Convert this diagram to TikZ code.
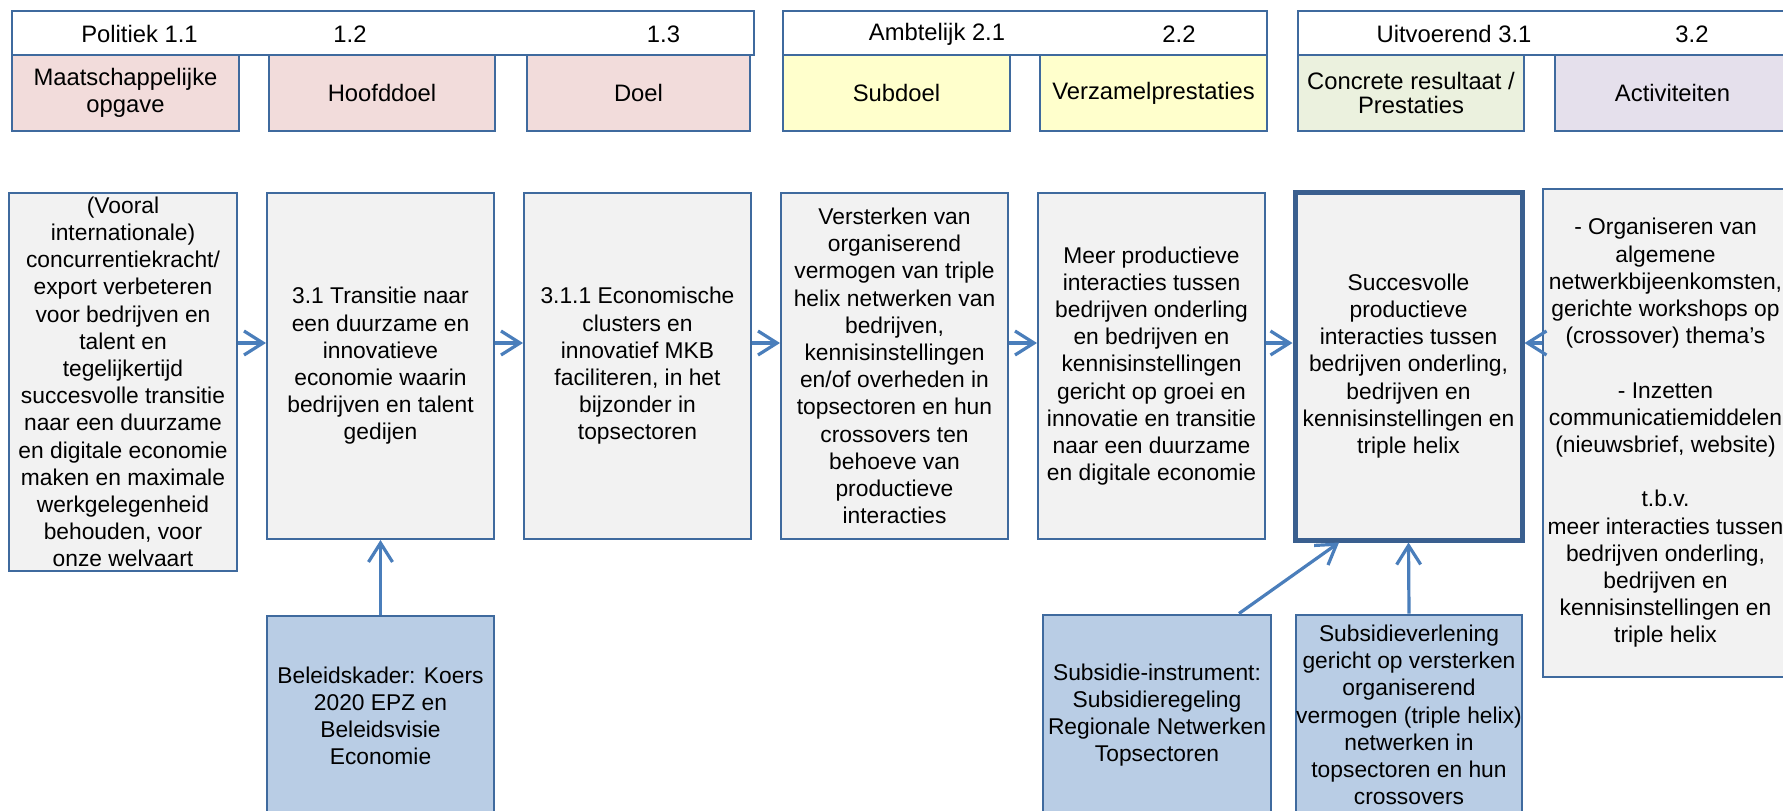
\documentclass[tikz,border=0pt]{standalone}
\usepackage{fontspec}
\setmainfont{Liberation Sans}
\usetikzlibrary{arrows.meta,calc}
\definecolor{bordc}{HTML}{3F6A9E}
\definecolor{thickc}{HTML}{3A5F8F}
\definecolor{arrc}{HTML}{4A7EBB}
\definecolor{greyf}{HTML}{F2F2F2}
\definecolor{bluef}{HTML}{B9CDE5}
\definecolor{pinkf}{HTML}{F2DCDB}
\definecolor{yellowf}{HTML}{FFFFCC}
\definecolor{greenf}{HTML}{EBF1DE}
\definecolor{purplef}{HTML}{E5E0EC}
\newcommand\mainfs{\fontsize{11.4}{13.6}\selectfont}
\newcommand\topfs{\fontsize{11.9}{13.3}\selectfont}
\begin{document}
\begin{tikzpicture}[x=0.5pt,y=-0.5pt,
  box/.style={draw=bordc, line width=1pt, rectangle, inner sep=0pt, align=center, font=\mainfs},
  hdr/.style={box, fill=white, minimum height=22pt},
  cat/.style={box, minimum height=38pt, font=\topfs},
  main/.style={box, fill=greyf},
  base/.style={box, fill=bluef, minimum height=100.5pt},
  lbl/.style={inner sep=0pt, font=\topfs},
  arr/.style={draw=arrc, line width=1.6pt, -{Straight Barb[length=9.5pt,width=12pt]}}]
\useasboundingbox (0,0) rectangle (1783,810);
\clip (0,0) rectangle (1783,810);
\fill[white] (0,0) rectangle (1783,810);

% header bars
\node[hdr, minimum width=371pt] (h1) at (383,33) {};
\node[hdr, minimum width=242pt] (h2) at (1025,33) {};
\node[hdr, minimum width=246pt] (h3) at (1544,33) {};
\node[lbl] (t11) at (139.5,34) {Politiek 1.1};
\node[lbl] (t12) at (350,34) {1.2};
\node[lbl] (t13) at (663.5,34) {1.3};
\node[lbl] (t21) at (937,34) {Ambtelijk 2.1};
\node[lbl] (t22) at (1179,34) {2.2};
\node[lbl] (t31) at (1454,34) {Uitvoerend 3.1};
\node[lbl] (t32) at (1692,34) {3.2};

% category boxes
\node[cat, fill=pinkf, minimum width=113.5pt, font=\fontsize{11.9}{13.4}\selectfont] (c1) at (125.5,93) {Maatschappelijke\\opgave};
\node[cat, fill=pinkf, minimum width=113pt] (c2) at (382,93) {Hoofddoel};
\node[cat, fill=pinkf, minimum width=111.5pt] (c3) at (638.5,93) {Doel};
\node[cat, fill=yellowf, minimum width=113.5pt] (c4) at (896.5,93) {Subdoel};
\node[cat, fill=yellowf, minimum width=113.5pt] (c5) at (1153.5,93) {Verzamelprestaties};
\node[cat, fill=greenf, minimum width=113pt, font=\fontsize{11.9}{12.2}\selectfont] (c6) at (1411,93) {Concrete resultaat /\\Prestaties};
\node[cat, fill=purplef, minimum width=117.5pt] (c7) at (1672.5,93) {Activiteiten};

% main chain
\node[main, minimum width=114pt, minimum height=189pt] (A) at (123,382) {(Vooral\\internationale)\\concurrentiekracht/\\export verbeteren\\voor bedrijven en\\talent en\\tegelijkertijd\\succesvolle transitie\\naar een duurzame\\en digitale economie\\maken en maximale\\werkgelegenheid\\behouden, voor\\onze welvaart};
\node[main, minimum width=113.5pt, minimum height=173pt] (B) at (380.5,366) {3.1 Transitie naar\\een duurzame en\\innovatieve\\economie waarin\\bedrijven en talent\\gedijen};
\node[main, minimum width=113.5pt, minimum height=173pt] (C) at (637.5,366) {3.1.1 Economische\\clusters en\\innovatief MKB\\faciliteren, in het\\bijzonder in\\topsectoren};
\node[main, minimum width=113.5pt, minimum height=173pt] (D) at (894.5,366) {Versterken van\\organiserend\\vermogen van triple\\helix netwerken van\\bedrijven,\\kennisinstellingen\\en/of overheden in\\topsectoren en hun\\crossovers ten\\behoeve van\\productieve\\interacties};
\node[main, minimum width=113.5pt, minimum height=173pt] (E) at (1151.5,366) {Meer productieve\\interacties tussen\\bedrijven onderling\\en bedrijven en\\kennisinstellingen\\gericht op groei en\\innovatie en transitie\\naar een duurzame\\en digitale economie};
\node[main, draw=thickc, line width=2.5pt, minimum width=113.5pt, minimum height=174pt] (F) at (1408.5,366) {Succesvolle\\productieve\\interacties tussen\\bedrijven onderling,\\bedrijven en\\kennisinstellingen en\\triple helix};
\node[main, minimum width=122.5pt, minimum height=244pt] (G) at (1665.5,433) {- Organiseren van\\algemene\\netwerkbijeenkomsten,\\gerichte workshops op\\(crossover) thema’s\\[13.6pt]- Inzetten\\communicatiemiddelen\\(nieuwsbrief, website)\\[13.6pt]t.b.v.\\meer interacties tussen\\bedrijven onderling,\\bedrijven en\\kennisinstellingen en\\triple helix};

% base boxes
\node[base, minimum width=113.5pt] (J) at (380.5,716) {Beleidskader: Koers\\2020 EPZ en\\Beleidsvisie\\Economie};
\node[base, minimum width=114pt] (H) at (1157,715) {Subsidie-instrument:\\Subsidieregeling\\Regionale Netwerken\\Topsectoren};
\node[base, minimum width=113pt] (I) at (1409,715) {Subsidieverlening\\gericht op versterken\\organiserend\\vermogen (triple helix)\\netwerken in\\topsectoren en hun\\crossovers};

% connectors
\coordinate (ay) at ([yshift=11.5pt]B.west);
\draw[arr] (A.east |- ay) -- (B.west |- ay);
\draw[arr] (B.east |- ay) -- (C.west |- ay);
\draw[arr] (C.east |- ay) -- (D.west |- ay);
\draw[arr] (D.east |- ay) -- (E.west |- ay);
\draw[arr] (E.east |- ay) -- (F.west |- ay);
\draw[arr] (G.west |- ay) -- (F.east |- ay);
\draw[arr] (J.north) -- (B.south);
\draw[arr] (I.north) -- (F.south);
\draw[arr] ([xshift=41pt]H.north) -- ([xshift=-34.75pt]F.south);
\end{tikzpicture}
\end{document}
